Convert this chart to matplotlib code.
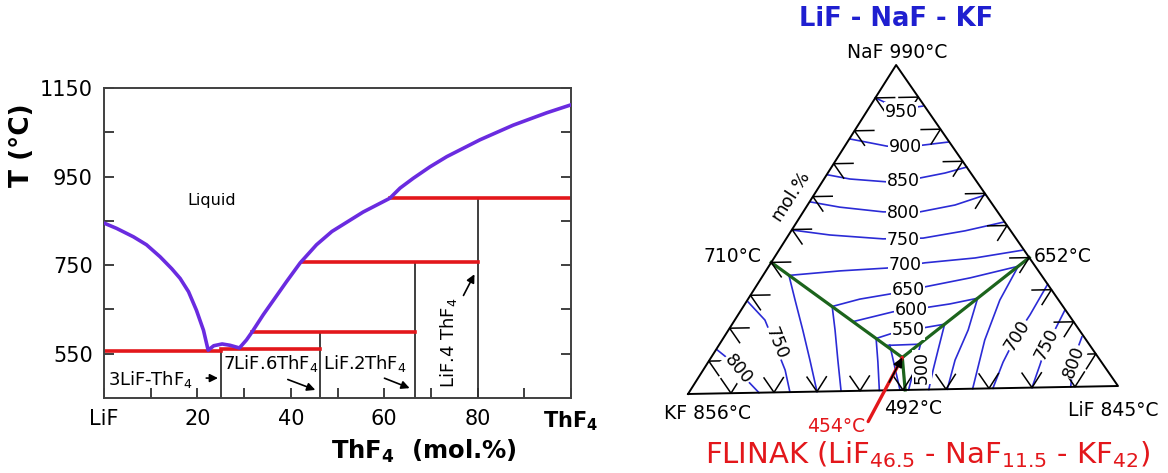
import numpy as np
import matplotlib.pyplot as plt

W, H = 1168, 473

# ---------------- LiF - ThF4 binary (left) ----------------
liq_x = [0, 2.7, 6.3, 9.1, 12.0, 14.5, 16.3, 18.1, 19.8, 21.3, 22.3,
         23.5, 25.3, 27.0, 29.0,
         30.5, 31.7, 34.1, 36.3, 39.1, 42.0, 45.5, 48.8, 55.5, 61.2,
         63.4, 66.2, 69.8, 73.4, 80.5, 87.6, 94.8, 100]
liq_T = [845, 833, 814, 796, 769, 742, 720, 690, 648, 603, 558,
         568, 572, 569, 563,
         581, 599, 638, 671, 713, 755, 796, 826, 870, 901,
         924, 946, 972, 995, 1033, 1066, 1094, 1112]

# invariant (red) lines
inv_x0 = [0, 25, 31.7, 42.3, 61.2]
inv_x1 = [25, 46.2, 66.7, 80, 100]
inv_T = [556, 560, 599, 757, 902]

# compounds (vertical lines)
comp_x = [25, 46.2, 66.7, 80]
comp_T = [556, 599, 757, 902]

# ---------------- LiF - NaF - KF ternary (right) ----------------
# points as (mol% LiF, mol% NaF)
eut_kf_naf = (0, 40)      # 710 C
eut_lif_naf = (60, 40)    # 652 C
eut_lif_kf = (50.5, 0)    # 492 C
eut_tern = (45, 10)       # 454 C (FLINAK)

naf_field = {
    950: ([0, 3.9, 7.2, 10.7, 12.4], [90.0, 88.1, 87.0, 86.9, 87.2]),
    900: ([0.2, 5.5, 9.9, 14.3, 18.2, 23.7], [77.5, 76.2, 75.1, 74.7, 75.2, 76.0]),
    850: ([0.3, 6.1, 15.3, 22.4, 27.6, 31.8], [66.6, 65.2, 64.1, 65.1, 66.5, 68.2]),
    800: ([0.1, 7.9, 18.8, 27.5, 34.7, 40.3], [58.4, 56.6, 54.9, 54.7, 56.6, 59.5]),
    750: ([0.3, 9.7, 22.8, 32.1, 40.9, 48.8], [49.8, 48.1, 46.6, 46.6, 48.6, 51.1]),
    700: ([6.1, 17.5, 28.1, 36.3, 47.3, 57.2], [35.9, 37.0, 37.6, 39.0, 40.2, 42.3]),
    650: ([20.9, 26.3, 32.6, 39.8, 49.1, 58.7], [26.1, 28.2, 29.6, 31.6, 34.1, 37.4]),
    600: ([28.0, 36.0, 42.5, 48.2, 53.9], [21.3, 24.1, 25.1, 26.2, 27.8]),
    550: ([36.0, 39.2, 45.5, 50.0], [16.0, 17.6, 19.0, 20.0]),
    500: ([39.3, 47.3], [13.8, 14.0]),
}
kf_field = {
    800: ([0.3, 4.8, 11.0, 16.5], [13.4, 10.2, 4.6, 0]),
    750: ([0.4, 7.1, 13.2, 19.3, 23.7], [28.0, 22.3, 14.6, 6.8, 0]),
    700: ([6.1, 11.2, 17.5, 23.6, 30.0], [35.9, 28.3, 19.0, 9.8, 0]),
    650: ([20.9, 25.1, 30.2, 35.6], [26.1, 18.8, 9.6, 0]),
    550: ([36.0, 39.9, 44.5], [16.0, 8.8, 0]),
    500: ([40.2, 49.3], [13.9, 0]),
}
lif_field = {
    550: ([50.0, 52.3, 54.1, 56.0], [20.0, 12.1, 6.0, 0]),
    600: ([53.9, 56.4, 57.8, 60.3], [27.8, 18.1, 8.9, 0]),
    650: ([58.7, 59.4, 61.8, 66.2], [37.4, 27.1, 14.9, 0]),
    700: ([68.3, 68.7, 68.6, 69.4, 70.9], [31.7, 22.4, 16.3, 8.0, 0]),
    750: ([76.2, 76.8, 76.9, 78.5, 80.0], [23.7, 17.6, 13.7, 6.9, 0]),
    800: ([84.2, 85.0, 86.3, 87.5, 89.0], [15.3, 11.3, 7.6, 3.7, 0]),
    500: ([47.3, 51.3], [14.0, 0]),
}
grid_steps = [10, 20, 30, 40, 50, 60, 70, 80, 90]


def fxy(x, y):
    """pixel position in the picture -> figure fraction"""
    return x / W, 1 - y / H


def tern(li, na):
    # the scanned triangle is slightly tilted
    li = np.asarray(li, dtype=float) / 100
    na = np.asarray(na, dtype=float) / 100
    return li + 0.484 * na, na + 0.0243 * li


plt.rcParams['font.family'] = ['DejaVu Sans']
fig = plt.figure(figsize=(W / 100, H / 100), dpi=100)

# ---- left panel ----
ax = fig.add_axes([104 / W, 1 - 398 / H, 467 / W, 310 / H])
ax.set_xlim(0, 100)
ax.set_ylim(450, 1150)
for x0, x1, T in zip(inv_x0, inv_x1, inv_T):
    ax.plot([x0, x1], [T, T], color='#e3171b', lw=2.6, zorder=2)
for x, T in zip(comp_x, comp_T):
    ax.plot([x, x], [450, T], color='#303030', lw=1.3, zorder=1)
ax.plot(liq_x, liq_T, color='#6a2be0', lw=2.6, zorder=3,
        solid_joinstyle='round', solid_capstyle='round')

ax.set_xticks([0, 20, 40, 60, 80, 100])
ax.set_xticklabels(['LiF', '20', '40', '60', '80', r'ThF$_\mathbf{4}$'])
ax.get_xticklabels()[-1].set_fontweight('bold')
ax.set_xticks([10, 30, 50, 70, 90], minor=True)
ax.set_yticks([550, 750, 950, 1150])
ax.set_yticks([650, 850, 1050], minor=True)
ax.tick_params(which='both', direction='in', length=7, width=1.3,
               right=True, top=False, labelsize=15, pad=8, colors='#303030',
               labelcolor='black')
for s in ax.spines.values():
    s.set_linewidth(1.4)
    s.set_color('#404040')

arrow = dict(arrowstyle='-|>', color='black', lw=1.2, mutation_scale=12)
ax.text(23.1, 897, 'Liquid', fontsize=11.5, ha='center', va='center')
ax.text(0.9, 491, r'3LiF-ThF$_4$', fontsize=13, ha='left', va='center')
ax.annotate('', xy=(25, 495), xytext=(21.3, 495), arrowprops=arrow)
ax.text(25.5, 527, r'7LiF.6ThF$_4$', fontsize=13, ha='left', va='center')
ax.annotate('', xy=(45.8, 466), xytext=(38.8, 494), arrowprops=arrow)
ax.text(46.9, 527, r'LiF.2ThF$_4$', fontsize=13, ha='left', va='center')
ax.annotate('', xy=(66.0, 470), xytext=(59.5, 497), arrowprops=arrow)
ax.text(73.7, 574, r'LiF.4 ThF$_4$', fontsize=13, rotation=90,
        ha='center', va='center')
ax.annotate('', xy=(79.6, 735), xytext=(76.7, 676), arrowprops=arrow)

fig.text(*fxy(424, 451), r'ThF$_\mathbf{4}$  (mol.%)', fontsize=17.5,
         fontweight='bold', ha='center', va='center')
fig.text(*fxy(22, 145), 'T (°C)', fontsize=19, fontweight='bold',
         rotation=90, ha='center', va='center')

# ---- right panel: ternary ----
tx = fig.add_axes([640 / W, 0, 528 / W, 1])
tx.set_xlim(-48 / 430, 480 / 430)
tx.set_ylim(-79 / 329, 394 / 329)
tx.axis('off')

blue = '#2b2bd6'
for field in (naf_field, kf_field, lif_field):
    for temp, (li, na) in field.items():
        tx.plot(*tern(li, na), color=blue, lw=1.2, zorder=2)

green = '#1c641c'
for a, b in ((eut_kf_naf, eut_tern), (eut_lif_naf, eut_tern),
             (eut_tern, eut_lif_kf)):
    tx.plot(*tern([a[0], b[0]], [a[1], b[1]]), color=green, lw=2.3, zorder=3)

# triangle
tx.plot(*tern([0, 100, 0, 0], [0, 0, 100, 0]), color='black', lw=1.4, zorder=4)

# grid ticks on the edges
L = 4.5
for f in grid_steps:
    tx.plot(*tern([L, 0, L], [f, f, f - L]), color='black', lw=1.1, zorder=4)
    li = 100 - f
    tx.plot(*tern([li - L, li, li], [f, f, f - L]), color='black', lw=1.1, zorder=4)
    tx.plot(*tern([f - L, f, f], [L, 0, L]), color='black', lw=1.1, zorder=4)

# FLINAK arrow
tip = tern(*eut_tern)
tail = tern(46.5, -9.5)
mid = tern(45.6, 2.5)
tx.annotate('', xy=tip, xytext=tail,
            arrowprops=dict(arrowstyle='-', color='#e3171b', lw=2.4,
                            shrinkA=0, shrinkB=0), zorder=5)
tx.annotate('', xy=tip, xytext=mid,
            arrowprops=dict(arrowstyle='-|>', color='black', lw=1.2,
                            mutation_scale=14, shrinkA=0, shrinkB=0), zorder=6)

bb = dict(facecolor='white', edgecolor='none', pad=0.5)
iso_labels = [(950, 901, 112), (900, 905, 147), (850, 903, 181),
              (800, 903, 213), (750, 903, 240), (700, 905, 265),
              (650, 908, 290), (600, 911, 310), (550, 908, 330)]
for t, x, y in iso_labels:
    fig.text(*fxy(x, y), str(t), fontsize=12.5, ha='center', va='center',
             bbox=bb, zorder=10)
rot_labels = [(500, 922, 367, 90), (750, 776, 343, -68), (800, 738, 369, -50),
              (700, 1017, 335, 58), (750, 1047, 344, 63), (800, 1074, 362, 70)]
for t, x, y, r in rot_labels:
    fig.text(*fxy(x, y), str(t), fontsize=12.5, ha='center', va='center',
             rotation=r, bbox=bb, zorder=10)

fig.text(*fxy(896, 19), 'LiF - NaF - KF', fontsize=18.5, fontweight='bold',
         color='#1f1fd0', ha='center', va='center')
fig.text(*fxy(897, 52), 'NaF 990°C', fontsize=13.5, ha='center', va='center')
fig.text(*fxy(732, 256), '710°C', fontsize=13.5, ha='center', va='center')
fig.text(*fxy(1063, 256), '652°C', fontsize=13.5, ha='center', va='center')
fig.text(*fxy(707, 413), 'KF 856°C', fontsize=13.5, ha='center', va='center')
fig.text(*fxy(913, 408), '492°C', fontsize=13.5, ha='center', va='center')
fig.text(*fxy(1113, 410), 'LiF 845°C', fontsize=13.5, ha='center', va='center')
fig.text(*fxy(836, 426), '454°C', fontsize=13.5, color='#e3171b',
         ha='center', va='center')
fig.text(*fxy(928, 455), r'FLINAK (LiF$_{46.5}$ - NaF$_{11.5}$ - KF$_{42}$)',
         fontsize=21, color='#e3171b', ha='center', va='center')
fig.text(*fxy(791, 196), 'mol.%', fontsize=13, rotation=57,
         ha='center', va='center')

fig.savefig('out.png', dpi=100)
